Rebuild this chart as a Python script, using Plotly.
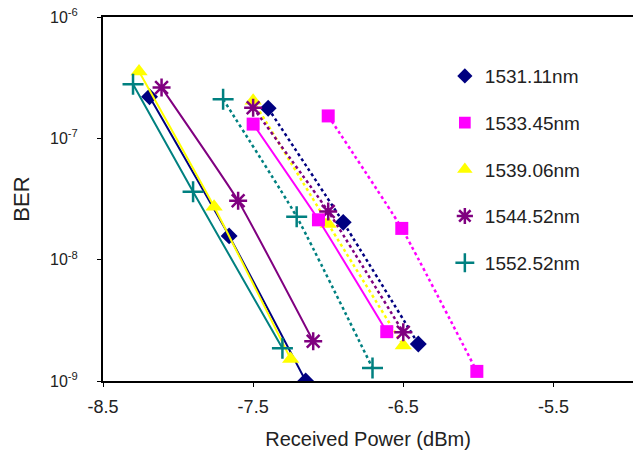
import plotly.graph_objects as go

names = ["1531.11nm", "1533.45nm", "1539.06nm", "1544.52nm", "1552.52nm"]
colors = ["#000080", "#FF00FF", "#FFFF00", "#800080", "#008080"]
symbols = ["diamond", "square", "triangle-up", "asterisk-open", "cross-thin-open"]
sizes = [13, 13, 15, 15, 15]

# back-to-back (solid) curves
solid_x = [
    [-8.19, -7.66, -7.15],
    [-7.50, -7.065, -6.61],
    [-8.26, -7.76, -7.25],
    [-8.11, -7.60, -7.10],
    [-8.30, -7.90, -7.305],
]
solid_y = [
    [2.2e-7, 1.57e-8, 1.0e-9],
    [1.31e-7, 2.13e-8, 2.55e-9],
    [3.55e-7, 2.73e-8, 1.52e-9],
    [2.62e-7, 3.06e-8, 2.13e-9],
    [2.79e-7, 3.63e-8, 1.86e-9],
]
# after transmission (dotted) curves
dot_x = [
    [-7.40, -6.90, -6.40],
    [-7.00, -6.51, -6.01],
    [-7.50, -7.00, -6.50],
    [-7.50, -7.00, -6.50],
    [-7.70, -7.21, -6.705],
]
dot_y = [
    [1.77e-7, 2.03e-8, 2.02e-9],
    [1.53e-7, 1.81e-8, 1.2e-9],
    [2.04e-7, 1.97e-8, 1.96e-9],
    [1.79e-7, 2.5e-8, 2.52e-9],
    [2.1e-7, 2.26e-8, 1.28e-9],
]

x_ticks = [-8.5, -7.5, -6.5, -5.5]
y_ticks = [1e-9, 1e-8, 1e-7, 1e-6]
y_ticktext = ["10<sup>-9</sup>", "10<sup>-8</sup>", "10<sup>-7</sup>", "10<sup>-6</sup>"]


def marker_for(i, scale=1.0):
    m = dict(symbol=symbols[i], size=sizes[i] * scale, color=colors[i])
    if symbols[i].endswith("open"):
        m["line"] = dict(color=colors[i], width=2.5)
    return m


fig = go.Figure()
for i in range(5):
    fig.add_trace(go.Scatter(
        x=dot_x[i], y=dot_y[i], mode="lines+markers",
        line=dict(color=colors[i], width=2.5, dash="dot", shape="spline", smoothing=0.4),
        marker=marker_for(i), showlegend=False, legendgroup=names[i]))
for i in range(5):
    fig.add_trace(go.Scatter(
        x=solid_x[i], y=solid_y[i], mode="lines+markers",
        line=dict(color=colors[i], width=2, shape="spline", smoothing=0.4),
        marker=marker_for(i), showlegend=False, legendgroup=names[i]))
for i in range(5):
    fig.add_trace(go.Scatter(
        x=[None], y=[None], mode="markers", name=names[i],
        marker=marker_for(i, 0.9), legendgroup=names[i], showlegend=True))

fig.update_layout(
    width=633, height=450,
    margin=dict(l=103, r=0, t=17, b=69),
    plot_bgcolor="white", paper_bgcolor="white",
    font=dict(family="Liberation Sans, Arial, sans-serif", color="#222222", size=15),
    legend=dict(x=0.645, y=0.89, xanchor="left", yanchor="top",
                font=dict(size=19, color="#222222"), tracegroupgap=19,
                bgcolor="rgba(0,0,0,0)", itemwidth=30),
    xaxis=dict(range=[-8.5, -4.97], tickvals=x_ticks, ticktext=[str(v) for v in x_ticks],
               showgrid=False, zeroline=False, showline=True, linecolor="black", linewidth=2,
               mirror=True, ticks="outside", ticklen=4, tickcolor="black", automargin=False,
               ticklabelstandoff=4,
               title=dict(text="Received Power (dBm)", font=dict(size=20), standoff=18),
               tickfont=dict(size=18)),
    yaxis=dict(type="log", range=[-9, -6], tickvals=y_ticks, ticktext=y_ticktext,
               showgrid=False, zeroline=False, showline=True, linecolor="black", linewidth=2,
               mirror=False, ticks="outside", ticklen=4, tickcolor="black", automargin=False,
               ticklabelstandoff=16,
               title=dict(text="BER", font=dict(size=22), standoff=14),
               tickfont=dict(size=16)),
)

fig.write_html("out.html", config={"displayModeBar": False},
               post_script="document.body.style.margin='0';")
